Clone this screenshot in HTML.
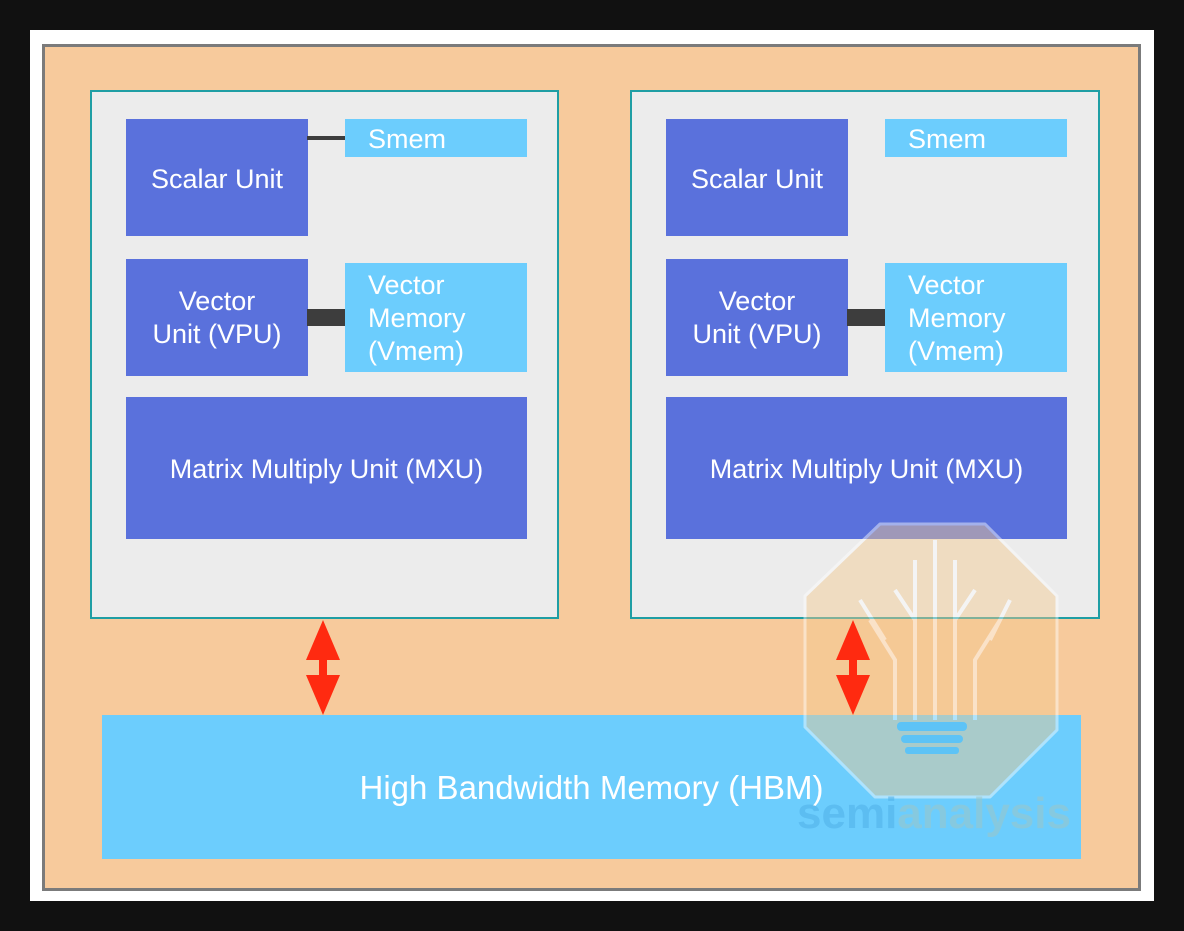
<!DOCTYPE html>
<html><head><meta charset="utf-8"><style>
*{margin:0;padding:0;box-sizing:border-box}
body{width:1184px;height:931px;background:#111;position:relative;overflow:hidden;font-family:"Liberation Sans",sans-serif}
.a{position:absolute}
.u{background:#5a71dc;color:#fff;display:flex;align-items:center;justify-content:center;text-align:center;font-size:27px;line-height:33px}
.m{background:#6ccdfd;color:#fff;font-size:27px;line-height:33px;padding-left:23px}
.p{background:#ececec;border:2px solid #1f9ea4}
</style></head><body>
<div class="a" style="left:30px;top:30px;width:1124px;height:871px;background:#fff"></div>
<div class="a" style="left:42px;top:44px;width:1099px;height:847px;background:#f7ca9c;border:3px solid #7b7b7b"></div>

<div class="a p" style="left:90px;top:90px;width:469px;height:529px"></div>
<div class="a p" style="left:630px;top:90px;width:470px;height:529px"></div>

<!-- left -->
<div class="a u" style="left:126px;top:119px;width:182px;height:117px;padding-top:4px">Scalar Unit</div>
<div class="a" style="left:307px;top:136px;width:39px;height:4px;background:#3d3d3d"></div>
<div class="a m" style="left:345px;top:119px;width:182px;height:38px;line-height:40px">Smem</div>
<div class="a u" style="left:126px;top:259px;width:182px;height:117px">Vector<br>Unit (VPU)</div>
<div class="a" style="left:307px;top:309px;width:39px;height:17px;background:#3d3d3d"></div>
<div class="a m" style="left:345px;top:263px;width:182px;height:109px;padding-top:6px">Vector<br>Memory<br>(Vmem)</div>
<div class="a u" style="left:126px;top:397px;width:401px;height:142px;padding-top:2px">Matrix Multiply Unit (MXU)</div>

<!-- right -->
<div class="a u" style="left:666px;top:119px;width:182px;height:117px;padding-top:4px">Scalar Unit</div>
<div class="a m" style="left:885px;top:119px;width:182px;height:38px;line-height:40px">Smem</div>
<div class="a u" style="left:666px;top:259px;width:182px;height:117px">Vector<br>Unit (VPU)</div>
<div class="a" style="left:847px;top:309px;width:39px;height:17px;background:#3d3d3d"></div>
<div class="a m" style="left:885px;top:263px;width:182px;height:109px;padding-top:6px">Vector<br>Memory<br>(Vmem)</div>
<div class="a u" style="left:666px;top:397px;width:401px;height:142px;padding-top:2px">Matrix Multiply Unit (MXU)</div>

<div class="a u" style="left:102px;top:715px;width:979px;height:144px;background:#6ccdfd;font-size:33px">High Bandwidth Memory (HBM)</div>

<svg class="a" style="left:0;top:0" width="1184" height="931">
<g opacity="0.45">
<path d="M880,524 L985,524 L1057,596 L1057,730 L990,797 L875,797 L805,727 L805,596 Z" fill="#f4c98e" stroke="#fff" stroke-width="3" stroke-linejoin="round"/>
<g stroke="#fff" stroke-width="4" fill="none">
<path d="M935,540 V720 M915,560 V720 M955,560 V720 M895,590 L915,620 M975,590 L955,620 M870,620 L895,660 V720 M1000,620 L975,660 V720 M860,600 L885,640 M1010,600 L990,640"/>
</g>
<g fill="#4db8ee"><rect x="897" y="722" width="70" height="9" rx="4"/><rect x="901" y="735" width="62" height="8" rx="4"/><rect x="905" y="747" width="54" height="7" rx="3"/></g>
</g>
<text x="797" y="828" font-family="Liberation Sans,sans-serif" font-weight="bold" font-size="44" fill="#4fb0e8" opacity="0.55">semi<tspan fill="#9cc6c8">analysis</tspan></text>
<g fill="#ff2a10">
<polygon points="323,620 340,660 327,660 327,675 340,675 323,715 306,675 319,675 319,660 306,660"/>
<polygon points="853,620 870,660 857,660 857,675 870,675 853,715 836,675 849,675 849,660 836,660"/>
</g>
</svg>
</body></html>
